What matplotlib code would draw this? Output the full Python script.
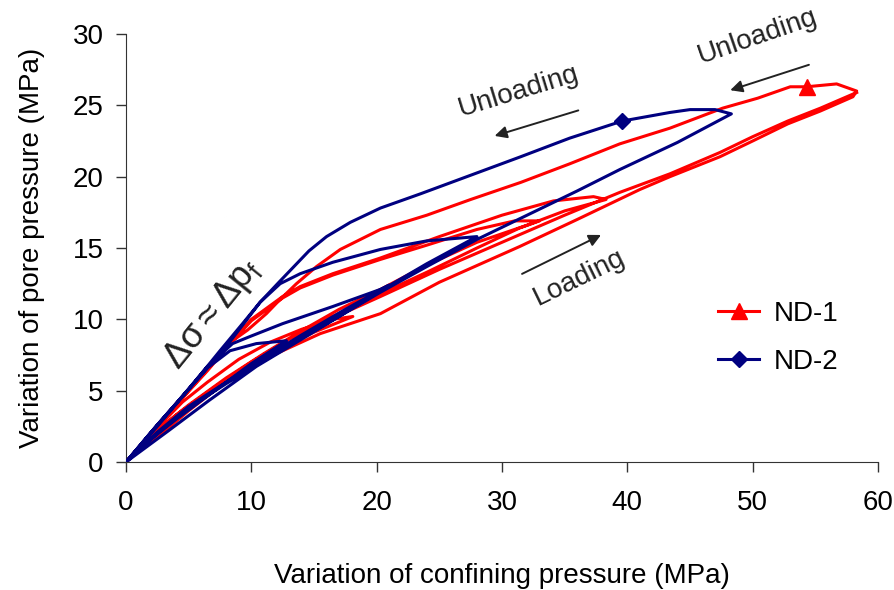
import matplotlib
matplotlib.use("Agg")
import matplotlib.pyplot as plt

plt.rcParams['font.family'] = ['Liberation Sans', 'DejaVu Sans']
plt.rcParams['mathtext.fontset'] = 'custom'
plt.rcParams['mathtext.rm'] = 'Liberation Sans'
plt.rcParams['mathtext.it'] = 'Liberation Sans'

# ND-1 (red): loading / unloading cycles
nd1_x = [0, 1.5, 3, 5, 7.5, 10, 12.5, 15, 18.1,
         16.5, 14, 11.5, 9, 6.5, 4.5, 2.5, 0,
         2, 4, 7, 10, 13, 16.5, 20.3, 24, 28, 31.4, 33,
         31, 28, 24, 20.3, 16.5, 13.9, 12.5, 10, 8, 6, 3, 0,
         2, 5, 8, 11, 14, 17, 20.3, 24, 28, 32, 35, 38.3,
         37.3, 34.1, 30, 25, 20.3, 16.5, 13.9, 12.5, 10, 8, 6, 3, 0,
         1.5, 3, 5, 7.5, 11.5, 15.5, 20.3, 25, 31.4, 36, 41, 43.4, 47.4, 50, 52.8, 55.4, 58, 58.3,
         56.7, 54.3, 53, 50.4, 47.6, 43.4, 39.4, 35.4, 31.5, 27.5, 24, 20.3, 17.1, 15.2, 13.6, 12.3, 11.2, 9.7, 8.5, 6.5, 4, 2, 0,
         2, 4.5, 8, 12, 16, 20.3, 25, 30, 35, 39.4, 43.4, 47.4, 50, 52.8, 55.4, 58.3]
nd1_y = [0, 1.3, 2.4, 3.7, 5.3, 6.7, 8.0, 9.1, 10.2,
         10.0, 9.3, 8.4, 7.2, 5.6, 4.2, 2.4, 0,
         1.8, 3.3, 5.2, 7.0, 8.6, 10.2, 11.8, 13.3, 15.0, 16.4, 16.9,
         16.9, 16.3, 15.2, 14.2, 13.1, 12.2, 11.5, 9.9, 8.0, 6.0, 3.0, 0,
         1.9, 4.0, 5.9, 7.6, 9.2, 10.7, 12.1, 13.8, 15.4, 16.6, 17.6, 18.4,
         18.6, 18.3, 17.3, 15.8, 14.3, 13.2, 12.3, 11.6, 10.0, 8.1, 6.1, 3.1, 0,
         1.2, 2.1, 3.6, 5.3, 7.4, 9.0, 10.4, 12.6, 15.1, 17.0, 19.1, 20.0, 21.4, 22.5, 23.7, 24.6, 25.6, 26.0,
         26.5, 26.3, 26.3, 25.5, 24.8, 23.4, 22.3, 20.9, 19.6, 18.4, 17.3, 16.3, 14.9, 13.7, 12.5, 11.4, 10.4, 9.25, 8.5, 6.4, 4.0, 2.0, 0,
         1.8, 3.6, 5.7, 7.8, 9.9, 11.6, 13.5, 15.4, 17.3, 18.9, 20.2, 21.7, 22.8, 23.9, 24.8, 25.9]

# ND-2 (blue)
nd2_x = [0, 2, 4, 6, 8, 10, 12.8,
         10.4, 8.3, 6.5, 4.5, 2.5, 0,
         2.5, 5, 8, 11, 14, 17.5, 21,
         20.3, 16.5, 12.5, 9.9, 8.5, 6.5, 4, 2, 0,
         2.5, 5, 8, 11, 14, 17, 20.3, 24, 28,
         24, 20.3, 16.5, 13.9, 12.3, 10.7, 8, 5, 2.5, 0,
         3.4, 6.6, 10.4, 14, 17, 20.3, 24, 28, 32, 36, 39.4, 44, 48.3,
         47, 45, 43.4, 39.6, 35.4, 31.5, 27.5, 23.5, 20.3, 17.9, 16.0, 14.6, 13.4, 12.2, 10.7, 9.3, 7.5, 5, 2.5, 0]
nd2_y = [0, 1.6, 3.0, 4.3, 5.6, 6.9, 8.5,
         8.3, 7.8, 6.6, 4.6, 2.6, 0,
         2.1, 3.9, 5.6, 7.3, 8.9, 10.7, 12.4,
         12.1, 10.9, 9.7, 8.8, 8.3, 6.7, 4.1, 2.1, 0,
         2.0, 3.8, 5.5, 7.1, 8.7, 10.2, 12.0, 13.9, 15.8,
         15.5, 14.9, 14.0, 13.2, 12.5, 11.2, 8.1, 5.1, 2.6, 0,
         2.2, 4.3, 6.7, 8.6, 10.2, 11.9, 13.7, 15.6, 17.3, 19.0, 20.5, 22.4, 24.4,
         24.7, 24.7, 24.5, 23.9, 22.7, 21.4, 20.1, 18.8, 17.8, 16.8, 15.8, 14.8, 13.7, 12.6, 11.2, 9.7, 7.8, 5.1, 2.5, 0]

x_ticks = [0, 10, 20, 30, 40, 50, 60]
y_ticks = [0, 5, 10, 15, 20, 25, 30]

fig = plt.figure(figsize=(8.95, 5.9), dpi=100)
ax = fig.add_axes([0.1408, 0.2169, 0.8402, 0.7255])

ax.plot(nd1_x, nd1_y, color='#ff0000', lw=2.2, marker='^', ms=11,
        markevery=[nd1_x.index(54.3)], label='ND-1', zorder=2)
ax.plot(nd2_x, nd2_y, color='#000080', lw=2.2, marker='D', ms=8,
        markevery=[nd2_x.index(39.6)], label='ND-2', zorder=3)

ax.set_xlim(0, 60)
ax.set_ylim(0, 30)
ax.set_xticks(x_ticks)
ax.set_yticks(y_ticks)
for s in ['top', 'right']:
    ax.spines[s].set_visible(False)
for s in ['left', 'bottom']:
    ax.spines[s].set_color('#333333')
ax.tick_params(axis='both', direction='out', length=7, width=1, colors='#333333',
               labelcolor='black', labelsize=20)
ax.tick_params(axis='x', pad=13)
ax.tick_params(axis='y', pad=9)

ax.set_xlabel('Variation of confining pressure (MPa)', fontsize=20, labelpad=34)
ax.set_ylabel('Variation of pore pressure (MPa)', fontsize=20, labelpad=20)

txt = '#222222'
arrow = dict(arrowstyle='-|>', color='#222222', lw=1.4, mutation_scale=18)
ax.annotate('', xy=(29.2, 22.8), xytext=(36.3, 24.7), arrowprops=arrow)
ax.text(31.3, 26.0, 'Unloading', fontsize=20, color=txt, rotation=17,
        ha='center', va='center')
ax.annotate('', xy=(48.0, 26.0), xytext=(54.7, 27.9), arrowprops=arrow)
ax.text(50.4, 29.8, 'Unloading', fontsize=20, color=txt, rotation=19,
        ha='center', va='center', clip_on=False)
ax.annotate('', xy=(38.1, 16.0), xytext=(31.4, 13.1), arrowprops=arrow)
ax.text(36.2, 12.9, 'Loading', fontsize=20, color=txt, rotation=26,
        ha='center', va='center')
ax.text(6.9, 10.4, r'$\Delta\sigma \approx \Delta p_\mathrm{f}$', fontsize=26, color=txt,
        rotation=51, ha='center', va='center')

ax.legend(loc='center', bbox_to_anchor=(0.867, 0.29), frameon=False, fontsize=20,
          handlelength=1.5, labelspacing=0.8, handletextpad=0.5)

fig.savefig('out.png', dpi=100)
